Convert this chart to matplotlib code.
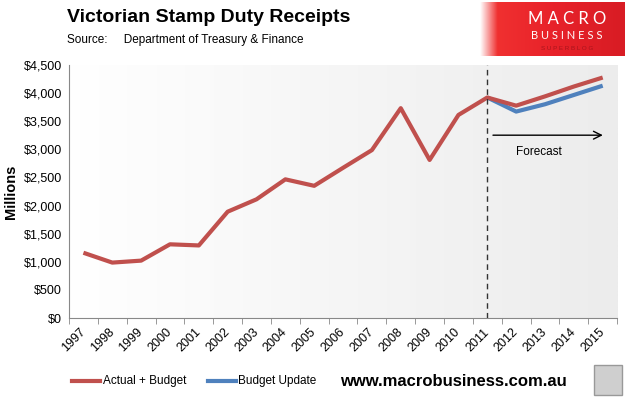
import numpy as np
import matplotlib
matplotlib.use('Agg')
import matplotlib.pyplot as plt
from matplotlib.patches import Rectangle
from matplotlib.ticker import FuncFormatter, MultipleLocator, FixedLocator

years = list(range(1997, 2016))
actual_budget = [1160, 985, 1020, 1310, 1290, 1890, 2110, 2465, 2350, 2670, 2985,
                 3730, 2810, 3610, 3920, 3775, 3940, 4115, 4275]
budget_update_years = [2011, 2012, 2013, 2014, 2015]
budget_update = [3920, 3670, 3800, 3965, 4130]

red = '#C0504D'
blue = '#4F81BD'
plt.rcParams['font.family'] = ['Liberation Sans', 'DejaVu Sans']

fig = plt.figure(figsize=(6.25, 3.98), dpi=100)
ax = fig.add_axes([0.1104, 0.201, 0.877, 0.636])

# light grey gradient behind the plot
grad = np.linspace(0, 1, 256).reshape(1, -1)
ax.imshow(grad, extent=[1996.5, 2015.5, 0, 4500], aspect='auto',
          cmap=matplotlib.colors.LinearSegmentedColormap.from_list('bg', ['#ffffff', '#ececec']),
          zorder=0)

ax.plot(years, actual_budget, color=red, lw=3, zorder=3, solid_capstyle='butt')
ax.plot(budget_update_years, budget_update, color=blue, lw=3, zorder=2, solid_capstyle='butt')

ax.axvline(2011, color='#333333', lw=1, ls=(0, (4, 3)), zorder=4)
ax.annotate('', xy=(2015.1, 3250), xytext=(2011.1, 3250),
            arrowprops=dict(arrowstyle='->', color='black', lw=1, mutation_scale=14))
ax.text(2012.8, 2950, 'Forecast', ha='center', va='center', fontsize=8.5)

ax.set_xlim(1996.5, 2015.5)
ax.set_ylim(0, 4500)
ax.yaxis.set_major_locator(MultipleLocator(500))
ax.yaxis.set_major_formatter(FuncFormatter(lambda v, p: f'${v:,.0f}'))
ax.set_xticks(years)
ax.set_xticklabels([str(y) for y in years], rotation=45, fontsize=9,
                   ha='right', va='center', rotation_mode='anchor')
ax.xaxis.set_minor_locator(FixedLocator([y + 0.5 for y in range(1996, 2016)]))
ax.tick_params(axis='x', which='major', length=0, pad=9)
ax.tick_params(axis='x', which='minor', length=4, color='#888888', direction='out')
ax.tick_params(axis='y', length=0, labelsize=9, pad=5)
for s in ['top', 'right']:
    ax.spines[s].set_visible(False)
for s in ['left', 'bottom']:
    ax.spines[s].set_color('#888888')
ax.set_ylabel('Millions', fontsize=10.5, fontweight='bold', labelpad=4)

# title and source
fig.text(0.107, 0.955, 'Victorian Stamp Duty Receipts', fontsize=14, fontweight='bold',
         va='center', ha='left')
fig.text(0.107, 0.9, 'Source:     Department of Treasury & Finance', fontsize=8.5,
         va='center', ha='left')

# logo block
logo = fig.add_axes([480 / 625, 1 - 56 / 398, 145 / 625, 54 / 398])
lg = np.linspace(0, 1, 256).reshape(1, -1)
logo.imshow(lg, extent=[0, 1, 0, 1], aspect='auto',
            cmap=matplotlib.colors.LinearSegmentedColormap.from_list(
                'lg', [(0, '#ffffff'), (0.12, '#f03030'), (0.5, '#e8222a'), (1, '#d81c24')])
            )
logo.text(0.6, 0.68, 'M A C R O', color='white', fontsize=12, ha='center', va='center',
          family='Lato')
logo.text(0.6, 0.38, 'B U S I N E S S', color='white', fontsize=8, ha='center', va='center',
          family='Lato')
logo.text(0.6, 0.14, 'S U P E R B L O G', color='#a8141c', fontsize=4.5, ha='center',
          va='center')
logo.set_xlim(0, 1)
logo.set_ylim(0, 1)
logo.axis('off')

# legend
fig.lines.append(plt.Line2D([72 / 625, 100 / 625], [1 - 381 / 398] * 2, color=red, lw=3,
                            transform=fig.transFigure))
fig.text(103 / 625, 1 - 381 / 398, 'Actual + Budget', fontsize=8.5, va='center')
fig.lines.append(plt.Line2D([208 / 625, 236 / 625], [1 - 381 / 398] * 2, color=blue, lw=3,
                            transform=fig.transFigure))
fig.text(238 / 625, 1 - 381 / 398, 'Budget Update', fontsize=8.5, va='center')
fig.text(340 / 625, 1 - 381 / 398, 'www.macrobusiness.com.au', fontsize=12,
         fontweight='bold', va='center')

# wolf icon placeholder
fig.patches.append(Rectangle((594 / 625, 1 - 395 / 398), 28 / 625, 30 / 398,
                             transform=fig.transFigure, facecolor='#cfcfcf',
                             edgecolor='#999999', lw=1))

fig.savefig('out.png', dpi=100)
